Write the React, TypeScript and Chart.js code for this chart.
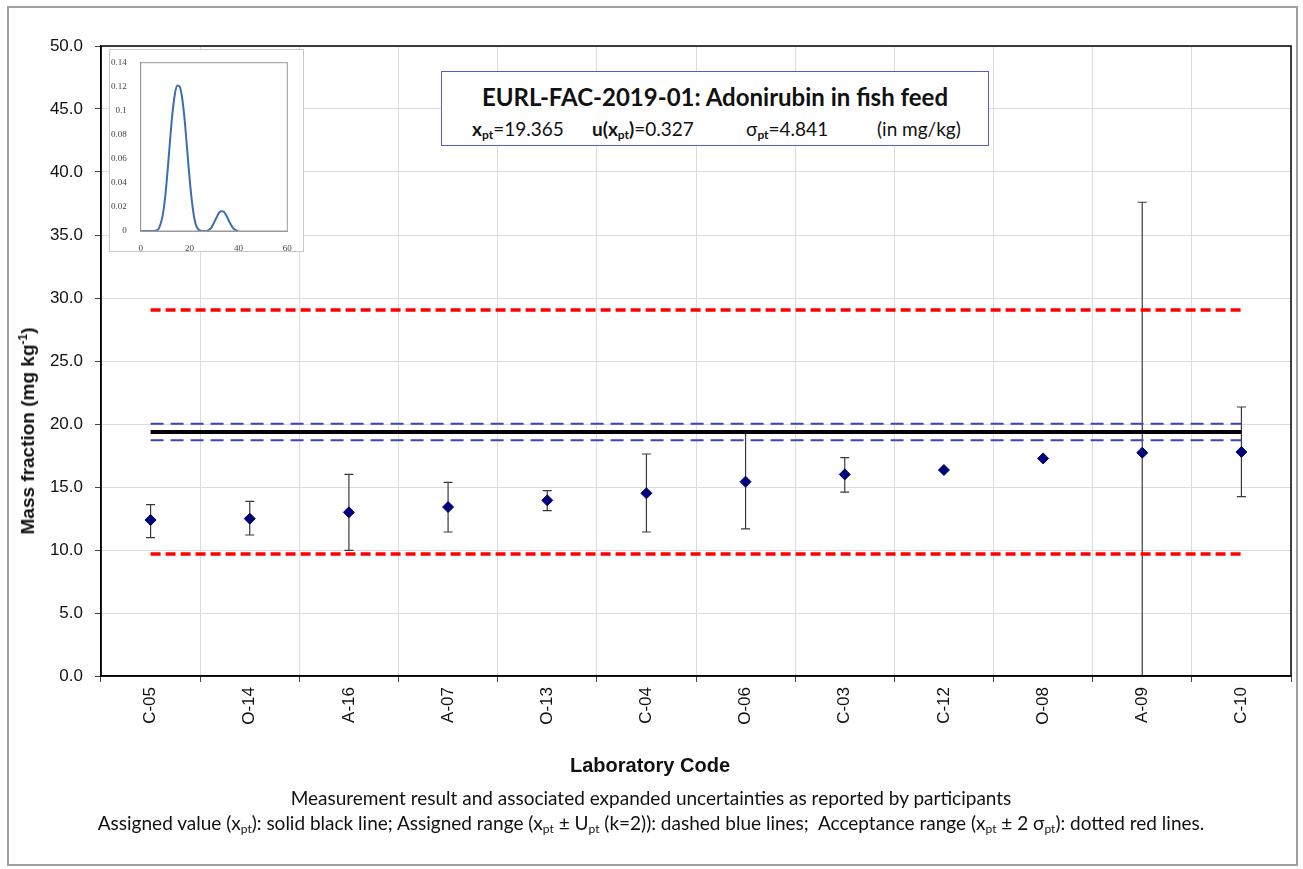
import React, { useEffect, useRef } from "react";
import { Chart, registerables } from "chart.js";
Chart.register(...registerables);

// ---------- data ----------
const labCodes = ["C-05", "O-14", "A-16", "A-07", "O-13", "C-04", "O-06", "C-03", "C-12", "O-08", "A-09", "C-10"];
const results = [12.38, 12.49, 12.99, 13.41, 13.94, 14.5, 15.42, 16.0, 16.35, 17.27, 17.72, 17.78];
const upperBars: (number | null)[] = [13.6, 13.86, 16.0, 15.37, 14.71, 17.62, 19.26, 17.33, null, null, 37.6, 21.35];
const lowerBars: (number | null)[] = [10.98, 11.19, 9.97, 11.43, 13.12, 11.43, 11.67, 14.6, null, null, -2.2, 14.23];

const assignedValue = 19.365;
const assignedUpper = 20.019;
const assignedLower = 18.711;
const acceptanceUpper = 29.047;
const acceptanceLower = 9.683;

const yMin = 0;
const yMax = 50;
const yStep = 5;

// kernel density (inset)
const kdeX = [0, 5, 7, 8, 9, 10, 11, 12, 13, 14, 15, 16, 17, 18, 19, 20, 21, 22, 23, 25, 27, 28, 29, 30, 31, 32, 33, 34, 35, 36, 37, 38, 39, 40];
const kdeY = [0, 0, 0.001, 0.005, 0.013, 0.028, 0.05, 0.075, 0.098, 0.114, 0.121, 0.12, 0.11, 0.092, 0.068, 0.044, 0.024, 0.01, 0.003, 0, 0, 0.001, 0.003, 0.007, 0.011, 0.015, 0.0165, 0.016, 0.013, 0.009, 0.005, 0.002, 0.0005, 0];

// ---------- plugins ----------
const errorBarPlugin = {
  id: "errorBars",
  beforeDatasetsDraw(chart: any) {
    const { ctx, chartArea, scales } = chart;
    const x = scales.x;
    const y = scales.y;
    ctx.save();
    ctx.beginPath();
    ctx.rect(chartArea.left, chartArea.top, chartArea.right - chartArea.left, chartArea.bottom - chartArea.top);
    ctx.clip();
    ctx.strokeStyle = "#3a3a3a";
    ctx.lineWidth = 1.2;
    labCodes.forEach((_, i) => {
      const hi = upperBars[i];
      const lo = lowerBars[i];
      if (hi == null || lo == null) return;
      const px = x.getPixelForValue(i);
      const ph = y.getPixelForValue(hi);
      const pl = y.getPixelForValue(lo);
      ctx.beginPath();
      ctx.moveTo(px, ph);
      ctx.lineTo(px, pl);
      ctx.moveTo(px - 4.5, ph);
      ctx.lineTo(px + 4.5, ph);
      ctx.moveTo(px - 4.5, pl);
      ctx.lineTo(px + 4.5, pl);
      ctx.stroke();
    });
    ctx.restore();
  },
};

const makeFramePlugin = (color: string, width: number) => ({
  id: "plotFrame",
  afterDraw(chart: any) {
    const { ctx, chartArea } = chart;
    ctx.save();
    ctx.strokeStyle = color;
    ctx.lineWidth = width;
    ctx.strokeRect(chartArea.left, chartArea.top, chartArea.right - chartArea.left, chartArea.bottom - chartArea.top);
    ctx.restore();
  },
});

const refLine = (value: number, color: string, width: number, dash: number[]) => ({
  type: "line" as const,
  data: labCodes.map(() => value),
  borderColor: color,
  borderWidth: width,
  borderDash: dash,
  borderCapStyle: "butt" as const,
  pointRadius: 0,
  fill: false,
  order: 2,
});

export default function App() {
  const mainRef = useRef<HTMLCanvasElement>(null);
  const insetRef = useRef<HTMLCanvasElement>(null);

  useEffect(() => {
    Chart.defaults.font.family = "'Liberation Sans', Arial, sans-serif";
    const main = new Chart(mainRef.current as HTMLCanvasElement, {
      type: "line",
      data: {
        labels: labCodes,
        datasets: [
          {
            label: "Results",
            data: results,
            showLine: false,
            pointStyle: "rectRot",
            pointRadius: 5.5,
            pointBackgroundColor: "#00007A",
            pointBorderColor: "#00007A",
            pointBorderWidth: 1,
            order: 0,
          } as any,
          refLine(acceptanceUpper, "#FF0000", 3.5, [10, 5]),
          refLine(acceptanceLower, "#FF0000", 3.5, [10, 5]),
          refLine(assignedUpper, "#3F3FC8", 2.2, [13, 7]),
          refLine(assignedLower, "#3F3FC8", 2.2, [13, 7]),
          { ...refLine(assignedValue, "#000000", 4, []), order: 1 },
        ],
      },
      options: {
        responsive: false,
        animation: false,
        layout: { padding: { left: 0, top: 46, right: 12, bottom: 0 } },
        plugins: { legend: { display: false }, tooltip: { enabled: false } },
        scales: {
          x: {
            type: "category",
            offset: true,
            grid: { offset: true, color: "#DCDCDC", lineWidth: 1, tickLength: 6, tickColor: "#444" },
            border: { color: "#000", width: 1.5 },
            ticks: {
              autoSkip: false,
              maxRotation: 90,
              minRotation: 90,
              padding: 5,
              color: "#111",
              font: { size: 17 },
            },
            afterFit: (s: any) => {
              s.height = 193;
            },
          },
          y: {
            min: yMin,
            max: yMax,
            grid: { color: "#DCDCDC", lineWidth: 1, tickLength: 6, tickColor: "#444" },
            border: { color: "#000", width: 1.5 },
            ticks: {
              stepSize: yStep,
              padding: 12,
              color: "#111",
              font: { size: 17 },
              callback: (v: any) => Number(v).toFixed(1),
            },
            afterFit: (s: any) => {
              s.width = 101;
            },
          },
        },
      },
      plugins: [errorBarPlugin, makeFramePlugin("#000", 1.5)],
    } as any);

    const inset = new Chart(insetRef.current as HTMLCanvasElement, {
      type: "line",
      data: {
        datasets: [
          {
            data: kdeX.map((x, i) => ({ x, y: kdeY[i] })),
            borderColor: "#3B6DB5",
            borderWidth: 2,
            pointRadius: 0,
            cubicInterpolationMode: "monotone",
            fill: false,
          },
        ],
      },
      options: {
        responsive: false,
        animation: false,
        layout: { padding: { left: 0, top: 12.7, right: 15.7, bottom: 0 } },
        plugins: { legend: { display: false }, tooltip: { enabled: false } },
        scales: {
          x: {
            type: "linear",
            min: 0,
            max: 60,
            grid: { display: false },
            border: { color: "#999", width: 1 },
            ticks: {
              stepSize: 20,
              padding: 4,
              color: "#444",
              font: { size: 9, family: "'Liberation Serif', serif" },
            },
            afterFit: (s: any) => {
              s.height = 20;
            },
          },
          y: {
            min: 0,
            max: 0.14,
            grid: { display: false },
            border: { color: "#999", width: 1 },
            ticks: {
              stepSize: 0.02,
              padding: 6,
              color: "#444",
              font: { size: 9, family: "'Liberation Serif', serif" },
              callback: (v: any) => String(Number(Number(v).toFixed(2))),
            },
            afterFit: (s: any) => {
              s.width = 30.7;
            },
          },
        },
      },
      plugins: [makeFramePlugin("#999", 1)],
    } as any);

    return () => {
      main.destroy();
      inset.destroy();
    };
  }, []);

  const sub = (t: string, size = 12) => <sub style={{ fontSize: size, verticalAlign: "-3px", lineHeight: 0 }}>{t}</sub>;

  return (
    <div style={{ position: "absolute", left: 0, top: 0, width: 1303, height: 869, background: "#fff" }}>
      <canvas ref={mainRef} width={1303} height={869} style={{ position: "absolute", left: 0, top: 0 }} />

      {/* outer frame */}
      <div
        style={{
          position: "absolute",
          left: 7,
          top: 6,
          width: 1291,
          height: 860,
          border: "2px solid #A0A0A0",
          boxSizing: "border-box",
          pointerEvents: "none",
        }}
      />

      {/* inset density chart */}
      <div
        style={{
          position: "absolute",
          left: 109,
          top: 49,
          width: 195,
          height: 203,
          border: "1px solid #C8C8C8",
          boxSizing: "border-box",
          background: "#fff",
        }}
      >
        <canvas ref={insetRef} width={193} height={201} style={{ display: "block" }} />
      </div>

      {/* title box */}
      <div
        style={{
          position: "absolute",
          left: 441,
          top: 71,
          width: 548,
          height: 75,
          border: "1px solid #5A5ACF",
          boxSizing: "border-box",
          background: "#fff",
          fontFamily: "Lato, 'Open Sans', sans-serif",
          color: "#111",
        }}
      >
        <div
          style={{
            position: "absolute",
            left: 0,
            top: 11,
            width: "100%",
            textAlign: "center",
            fontWeight: "bold",
            fontSize: 24,
            lineHeight: "28px",
            whiteSpace: "nowrap",
          }}
        >
          EURL-FAC-2019-01: Adonirubin in fish feed
        </div>
        <div style={{ position: "absolute", left: 30, top: 46, fontSize: 19, lineHeight: "22px", whiteSpace: "nowrap" }}>
          <b>x</b>
          <b>{sub("pt")}</b>=19.365
        </div>
        <div style={{ position: "absolute", left: 150, top: 46, fontSize: 19, lineHeight: "22px", whiteSpace: "nowrap" }}>
          <b>u(x</b>
          <b>{sub("pt")}</b>
          <b>)</b>=0.327
        </div>
        <div style={{ position: "absolute", left: 304, top: 46, fontSize: 19, lineHeight: "22px", whiteSpace: "nowrap" }}>
          σ<b>{sub("pt")}</b>=4.841
        </div>
        <div style={{ position: "absolute", left: 435, top: 46, fontSize: 19, lineHeight: "22px", whiteSpace: "nowrap" }}>
          (in mg/kg)
        </div>
      </div>

      {/* y axis title */}
      <div
        style={{
          position: "absolute",
          left: 28,
          top: 431,
          transform: "translate(-50%, -50%) rotate(-90deg)",
          fontFamily: "'Liberation Sans', Arial, sans-serif",
          fontWeight: "bold",
          fontSize: 19,
          whiteSpace: "nowrap",
          color: "#111",
        }}
      >
        Mass fraction (mg kg<sup style={{ fontSize: 12, lineHeight: 0 }}>-1</sup>)
      </div>

      {/* x axis title */}
      <div
        style={{
          position: "absolute",
          left: 650,
          top: 765,
          transform: "translate(-50%, -50%)",
          fontFamily: "'Liberation Sans', Arial, sans-serif",
          fontWeight: "bold",
          fontSize: 20,
          whiteSpace: "nowrap",
          color: "#111",
        }}
      >
        Laboratory Code
      </div>

      {/* captions */}
      <div
        style={{
          position: "absolute",
          left: 651,
          top: 797,
          transform: "translate(-50%, -50%)",
          fontFamily: "Lato, 'Open Sans', sans-serif",
          fontSize: 19,
          whiteSpace: "nowrap",
          color: "#111",
        }}
      >
        Measurement result and associated expanded uncertainties as reported by participants
      </div>
      <div
        style={{
          position: "absolute",
          left: 651,
          top: 822,
          transform: "translate(-50%, -50%)",
          fontFamily: "Lato, 'Open Sans', sans-serif",
          fontSize: 19,
          whiteSpace: "pre",
          color: "#111",
        }}
      >
        Assigned value (x{sub("pt")}): solid black line; Assigned range (x{sub("pt")} ± U{sub("pt")} (k=2)): dashed blue lines;  Acceptance range (x{sub("pt")} ± 2 σ{sub("pt")}): dotted red lines.
      </div>
    </div>
  );
}
